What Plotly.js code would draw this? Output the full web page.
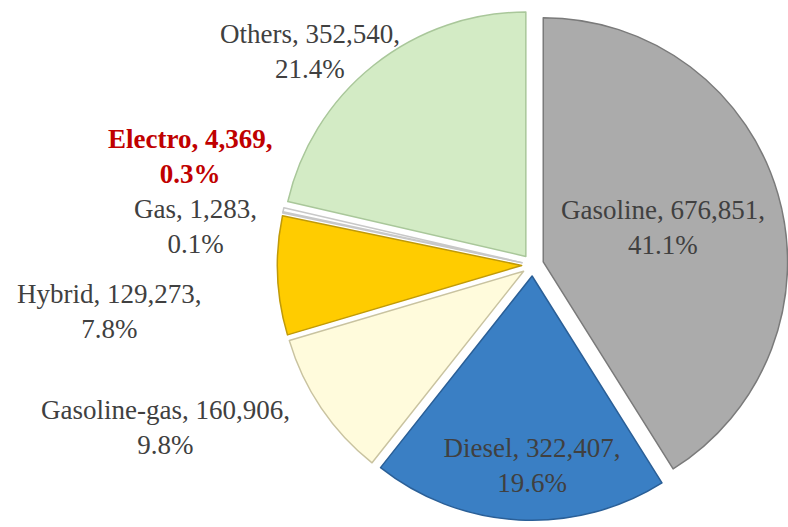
<!DOCTYPE html>
<html>
<head>
<meta charset="utf-8">
<script src="https://cdn.plot.ly/plotly-3.0.1.min.js"></script>
<style>
  body { margin: 0; background: #fff; }
  #chart { width: 788px; height: 527px; }
</style>
</head>
<body>
<div id="chart"></div>
<script>
let fuels = ["Gasoline", "Diesel", "Gasoline-gas", "Hybrid", "Gas", "Electro", "Others"];
let cars = [676851, 322407, 160906, 129273, 1283, 4369, 352540];
let shares = ["41.1", "19.6", "9.8", "7.8", "0.1", "0.3", "21.4"];

let fills = ["#ababab", "#3a7fc4", "#fffbdc", "#ffcc00", "#ffffff", "#ffffff", "#d3ebc5"];
let edges = ["#7a7a7a", "#2a5f97", "#c9c3a0", "#c09a08", "#c8c8c8", "#c8c8c8", "#a9c79a"];

// labels outside the pie: [fuel index, x px, y px]
let outside = [[6, 310, 52], [5, 190, 157], [4, 195, 227], [3, 109, 311], [2, 165, 427]];

let W = 788, H = 527;
let serif = "'Liberation Serif', 'DejaVu Serif', serif";

let textpos = fuels.map(function(f, i){
	return (i < 2) ? "inside" : "none";
});

let trace = {
	type: "pie",
	labels: fuels,
	values: cars,
	customdata: shares,
	sort: false,
	direction: "clockwise",
	rotation: 0,
	pull: 0.045,
	textposition: textpos,
	insidetextorientation: "horizontal",
	texttemplate: "%{label}, %{value:,},<br>%{customdata}%",
	textfont: { family: serif, size: 27, color: "#404040" },
	marker: {
		colors: fills,
		line: { color: edges, width: 1.5 }
	},
	domain: { x: [0.352, 1.0], y: [1 - 521 / H, 1 - 9 / H] },
	hoverinfo: "label+value+percent"
};

let notes = outside.map(function(o){
	let i = o[0];
	let red = fuels[i] == "Electro";
	let txt = fuels[i] + ", " + cars[i].toLocaleString("en-US") + ",<br>" + shares[i] + "%";
	if (red) txt = "<b>" + txt + "</b>";
	return {
		text: txt,
		xref: "paper", yref: "paper",
		x: o[1] / W, y: 1 - o[2] / H,
		xanchor: "center", yanchor: "middle",
		align: "center",
		showarrow: false,
		font: { family: serif, size: 27, color: red ? "#c00000" : "#404040" }
	};
});

let layout = {
	width: W,
	height: H,
	margin: { l: 0, r: 0, t: 0, b: 0 },
	showlegend: false,
	paper_bgcolor: "#ffffff",
	font: { family: serif },
	annotations: notes
};

Plotly.newPlot("chart", [trace], layout, { displayModeBar: false });
</script>
</body>
</html>
